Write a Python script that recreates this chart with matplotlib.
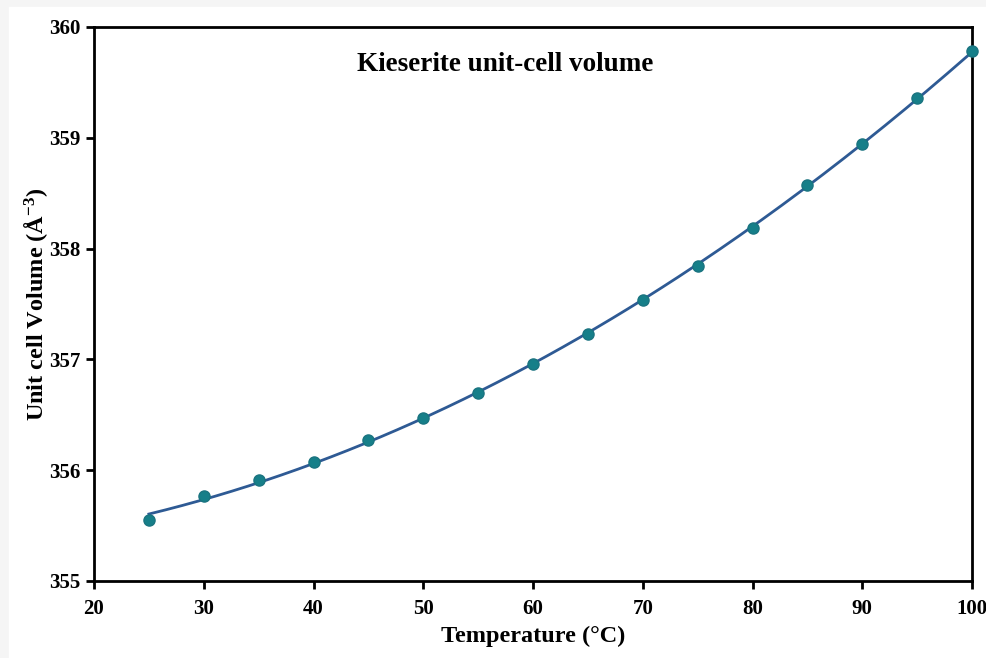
import numpy as np
import matplotlib
matplotlib.use('Agg')
import matplotlib.pyplot as plt

temp = [25, 30, 35, 40, 45, 50, 55, 60, 65, 70, 75, 80, 85, 90, 95, 100]
volume = [355.55, 355.77, 355.91, 356.07, 356.27, 356.47, 356.70, 356.96,
          357.23, 357.54, 357.84, 358.19, 358.57, 358.94, 359.36, 359.78]

plt.rcParams['font.family'] = ['Liberation Serif', 'DejaVu Serif']
plt.rcParams['font.weight'] = 'bold'
plt.rcParams['mathtext.fontset'] = 'custom'
plt.rcParams['mathtext.rm'] = 'Liberation Serif:bold'
plt.rcParams['mathtext.bf'] = 'Liberation Serif:bold'
plt.rcParams['mathtext.it'] = 'Liberation Serif:bold:italic'

fig = plt.figure(figsize=(9.86, 6.58), dpi=100, facecolor='#f5f5f5')
# white panel inside the light grey frame
fig.add_artist(plt.Rectangle((9 / 986, 0), 1, 1 - 7 / 658,
                             transform=fig.transFigure, color='white', zorder=-5))
ax = fig.add_axes([94 / 986, 1 - 581 / 658, (972 - 94) / 986, (581 - 27) / 658])

# polynomial trendline through the data
coef = np.polyfit(temp, volume, 2)
tt = np.linspace(temp[0], temp[-1], 200)
ax.plot(tt, np.polyval(coef, tt), color='#2e5a94', lw=2, zorder=2)
ax.plot(temp, volume, 'o', color='#167f89', mec='#1a7480', ms=8, zorder=3, clip_on=False)

ax.set_xlim(20, 100)
ax.set_ylim(355, 360)
ax.set_xticks(range(20, 101, 10))
ax.set_yticks(range(355, 361))
for s in ax.spines.values():
    s.set_linewidth(2)
ax.tick_params(direction='out', length=6, width=2, labelsize=15, pad=4)
ax.tick_params(axis='x', pad=7)

ax.set_xlabel('Temperature (°C)', fontsize=17.5, fontweight='bold', labelpad=5)
ax.set_ylabel('Unit cell Volume (Å$^{-3}$)', fontsize=17.5, fontweight='bold', labelpad=-1)
ax.text((505 - 94) / 878, 0.933, 'Kieserite unit-cell volume', transform=ax.transAxes,
        ha='center', va='center', fontsize=19.5, fontweight='bold')

fig.savefig('out.png', dpi=100, facecolor=fig.get_facecolor())
